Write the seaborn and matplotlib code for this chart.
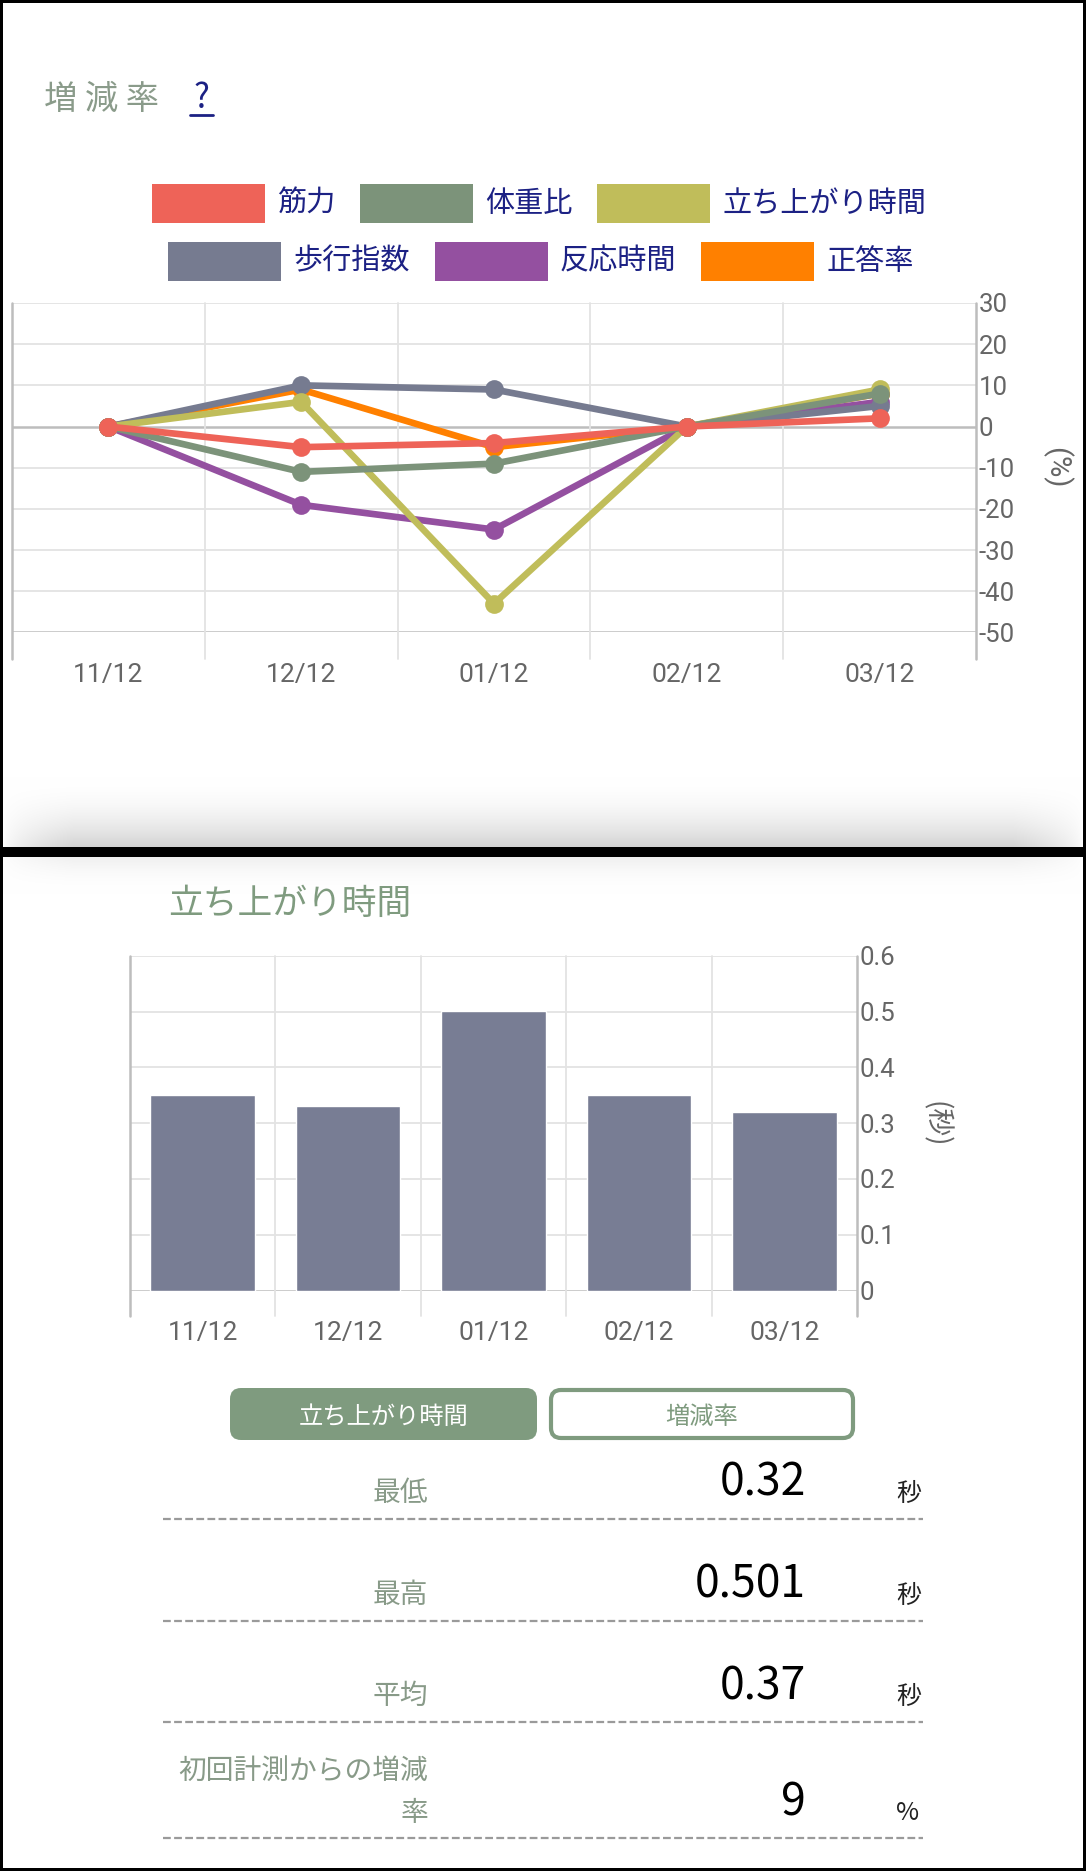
import numpy as np
import pandas as pd
import matplotlib
matplotlib.use("Agg")
import matplotlib.pyplot as plt
from matplotlib.patches import Rectangle, FancyBboxPatch
import seaborn as sns

# %%
# data
months = ["11/12", "12/12", "01/12", "02/12", "03/12"]
series_names = ["筋力", "体重比", "立ち上がり時間", "歩行指数", "反応時間", "正答率"]
series_colors = ["#ee6358", "#7c937a", "#c0bd5a", "#767b90", "#9450a0", "#ff8000"]
kinryoku = [0, -5, -4, 0, 2]
taijuhi = [0, -11, -9, 0, 8]
tachiagari = [0, 6, -43, 0, 9]
hoko = [0, 10, 9, 0, 5]
hanno = [0, -19, -25, 0, 6]
seitou = [0, 9, -5, 0, 8]

tachiagari_sec = [0.35, 0.33, 0.501, 0.35, 0.32]

pct_ticks = [-50, -40, -30, -20, -10, 0, 10, 20, 30]
sec_ticks = [0, 0.1, 0.2, 0.3, 0.4, 0.5, 0.6]

stat_labels = ["最低", "最高", "平均", "初回計測からの増減\n率"]
stat_values = ["0.32", "0.501", "0.37", "9"]
stat_units = ["秒", "秒", "秒", "%"]

btn_labels = ["立ち上がり時間", "増減率"]

# %%
sns.set_theme(style="white")
plt.rcParams['font.family'] = ['Roboto', 'Noto Sans CJK JP', 'DejaVu Sans']
plt.rcParams['axes.unicode_minus'] = False

W, H = 1086, 1871
CJK = ['Noto Sans CJK JP', 'DejaVu Sans']
green = "#7f9b7f"
label_green = "#889a88"
navy = "#1c2184"
tick_gray = "#666666"
grid_c = "#e3e3e3"
axis_c = "#bdbdbd"


def fx(x):
    return x / W


def fy(y):
    return 1 - y / H


fig = plt.figure(figsize=(W / 100, H / 100), dpi=100, facecolor="black")

# background panels (pixel coords)
bg = fig.add_axes([0, 0, 1, 1], zorder=-10)
bg.set_xlim(0, W)
bg.set_ylim(H, 0)
bg.set_axis_off()
bg.add_patch(Rectangle((3, 3), W - 6, 844, color="white", lw=0, zorder=1))
bg.add_patch(Rectangle((3, 857), W - 6, H - 860, color="white", lw=0, zorder=1))

# card shadows
xs = np.arange(3, W - 3)
edge = np.clip(np.minimum(xs - 3, W - 3 - xs) / 70, 0, 1) ** 0.6
t = np.linspace(0, 1, 70)[:, None] ** 2
dark = 0.17 * t * edge[None, :]
img = np.dstack([1 - dark] * 3)
bg.imshow(img, extent=(3, W - 3, 847, 777), aspect="auto", interpolation="bilinear", zorder=2)
t2 = (1 - np.linspace(0, 1, 38)[:, None]) ** 2
dark2 = 0.06 * t2 * edge[None, :]
img2 = np.dstack([1 - dark2] * 3)
bg.imshow(img2, extent=(3, W - 3, 895, 857), aspect="auto", interpolation="bilinear", zorder=2)
bg.set_xlim(0, W)
bg.set_ylim(H, 0)

# %%
# top card: title + legend
fig.text(fx(44), fy(99), "増 減 率", fontsize=24, color="#8a9b8a", family=CJK, va="center", ha="left")
fig.text(fx(201), fy(99), "?", fontsize=24, color=navy, family=CJK, va="center", ha="center")
bg.plot([190, 213], [115, 115], color=navy, lw=2, zorder=3)

leg_x = [152, 360, 597, 168, 435, 701]
leg_y = [203.5, 203.5, 203.5, 261.5, 261.5, 261.5]
for name, col, lx, ly in zip(series_names, series_colors, leg_x, leg_y):
    bg.add_patch(Rectangle((lx, ly - 19.5), 113, 39, color=col, lw=0, zorder=3))
    bg.text(lx + 125, ly, name, fontsize=21, color=navy, family=CJK, va="center", ha="left")

# %%
# line chart of change rate
df = pd.DataFrame({
    "month": months * 6,
    "series": sum([[n] * 5 for n in series_names], []),
    "value": kinryoku + taijuhi + tachiagari + hoko + hanno + seitou,
})
pal = dict(zip(series_names, series_colors))

ax1 = fig.add_axes([fx(12), fy(632.5), fx(976) - fx(12), (632.5 - 303) / H])
ax1.patch.set_alpha(0)
for y in pct_ticks:
    ax1.axhline(y, color=axis_c if y in (0, -50) else grid_c, lw=1.8 if y in (0, -50) else 1.3, zorder=0)
for i, x in enumerate(np.arange(-0.5, 5, 1)):
    ax1.plot([x, x], [-0.08, 1], transform=ax1.get_xaxis_transform(), clip_on=False,
             color=axis_c if i in (0, 5) else grid_c, lw=1.8 if i in (0, 5) else 1.3, zorder=0)
sns.lineplot(data=df, x="month", y="value", hue="series", hue_order=series_names[::-1],
             palette=pal, marker="o", markersize=13.5, markeredgewidth=0, linewidth=4.8,
             sort=False, legend=False, ax=ax1)
ax1.set_xlim(-0.5, 4.5)
ax1.set_ylim(-50, 30)
ax1.set_yticks(pct_ticks)
ax1.yaxis.tick_right()
ax1.tick_params(axis="y", length=0, pad=2, labelsize=18.5, labelcolor=tick_gray)
ax1.tick_params(axis="x", length=0, pad=22, labelsize=19, labelcolor=tick_gray)
ax1.set_xlabel("")
ax1.set_ylabel("")
for s in ax1.spines.values():
    s.set_visible(False)
fig.text(fx(1056), fy(468), "(%)", rotation=-90, fontsize=21, color=tick_gray, va="center", ha="center")

# %%
# bottom card: bar chart
fig.text(fx(168), fy(904), "立ち上がり時間", fontsize=25, color=green, family=CJK, va="center", ha="left")

ax2 = fig.add_axes([fx(130), fy(1290.5), fx(857) - fx(130), (1290.5 - 955.7) / H])
ax2.patch.set_alpha(0)
for y in sec_ticks:
    ax2.axhline(y, color=axis_c if y == 0 else grid_c, lw=1.8 if y == 0 else 1.3, zorder=0)
for i, x in enumerate(np.arange(-0.5, 5, 1)):
    ax2.plot([x, x], [-0.076, 1], transform=ax2.get_xaxis_transform(), clip_on=False,
             color=axis_c if i in (0, 5) else grid_c, lw=1.8 if i in (0, 5) else 1.3, zorder=0)
sns.barplot(x=months, y=tachiagari_sec, color="#787d94", saturation=1, width=0.72, ax=ax2, zorder=2)
ax2.set_xlim(-0.5, 4.5)
ax2.set_ylim(0, 0.6)
ax2.set_yticks(sec_ticks)
ax2.set_yticklabels([f"{v:g}" for v in sec_ticks])
ax2.yaxis.tick_right()
ax2.tick_params(axis="y", length=0, pad=2, labelsize=18.5, labelcolor=tick_gray)
ax2.tick_params(axis="x", length=0, pad=22, labelsize=19, labelcolor=tick_gray)
for s in ax2.spines.values():
    s.set_visible(False)
fig.text(fx(935), fy(1124), "(秒)", rotation=-90, fontsize=20, color=tick_gray, family=CJK, va="center", ha="center")

# %%
# toggle buttons
bg.add_patch(FancyBboxPatch((230, 1388), 307, 52, boxstyle="round,pad=0,rounding_size=11",
                            fc=green, ec=green, lw=0, zorder=3))
bg.add_patch(FancyBboxPatch((551, 1390), 302, 48, boxstyle="round,pad=0,rounding_size=10",
                            fc="white", ec=green, lw=3, zorder=3))
bg.text(384, 1417, btn_labels[0], fontsize=17.5, color="white", family=CJK, ha="center", va="center", zorder=4)
bg.text(702, 1417, btn_labels[1], fontsize=17.5, color=green, family=CJK, ha="center", va="center", zorder=4)

# stats rows
row_lines = [1519, 1621, 1722, 1838]
for lab, val, unit, ly in zip(stat_labels, stat_values, stat_units, row_lines):
    if "\n" in lab:
        bg.text(428, ly - 46, lab, fontsize=20, color=label_green, family=CJK, ha="right", va="center",
                multialignment="right", linespacing=1.5)
    else:
        bg.text(428, ly - 26, lab, fontsize=20, color=label_green, family=CJK, ha="right", va="center")
    bg.text(806, ly - 36, val, fontsize=32, color="black", family=CJK, ha="right", va="center")
    bg.text(896, ly - 25, unit, fontsize=18, color="#222222", family=CJK, ha="left", va="center")
    bg.plot([163, 923], [ly, ly], color="#9a9a9a", lw=1.6, dashes=(3.5, 1.5), zorder=3)

fig.savefig("out.png", dpi=100, facecolor="black")
